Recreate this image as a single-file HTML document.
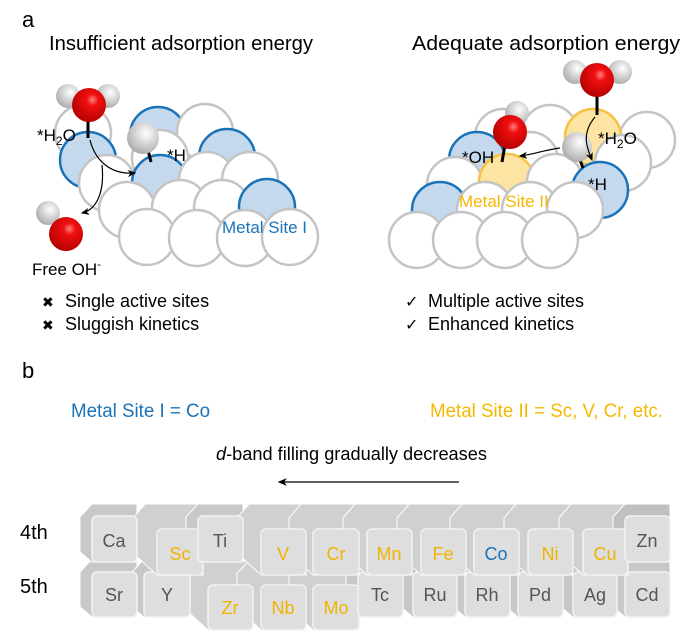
<!DOCTYPE html>
<html><head><meta charset="utf-8"><style>
body{margin:0;background:#fff}
svg{display:block;font-family:"Liberation Sans",Arial,sans-serif}
</style></head><body>
<svg width="699" height="636" viewBox="0 0 699 636" xmlns="http://www.w3.org/2000/svg">
<defs>
<radialGradient id="red" cx="0.6" cy="0.35" r="0.7"><stop offset="0" stop-color="#ff8080"/><stop offset="0.25" stop-color="#f01010"/><stop offset="1" stop-color="#b00000"/></radialGradient>
<radialGradient id="hg" cx="0.6" cy="0.35" r="0.7"><stop offset="0" stop-color="#ffffff"/><stop offset="0.4" stop-color="#dcdcdc"/><stop offset="1" stop-color="#a8a8a8"/></radialGradient>
<marker id="ah" markerWidth="8" markerHeight="8" refX="6" refY="4" orient="auto"><path d="M0,1 L7,4 L0,7 L2,4z" fill="#000"/></marker>
</defs>
<g fill="#000">
<text x="22" y="27" font-size="22">a</text>
<text x="49" y="50" font-size="20" textLength="264" lengthAdjust="spacingAndGlyphs">Insufficient adsorption energy</text>
<text x="412" y="50" font-size="20" textLength="268" lengthAdjust="spacingAndGlyphs">Adequate adsorption energy</text>
</g>
<!-- left cluster -->
<g stroke-width="2.5">
<circle cx="83" cy="133" r="28" fill="#fff" stroke="#c4c4c4"/>
<circle cx="158" cy="135" r="28" fill="#c5d9ee" stroke="#1a73b8"/>
<circle cx="205" cy="132" r="28" fill="#fff" stroke="#c4c4c4"/>
<circle cx="160" cy="158" r="28" fill="#fff" stroke="#c4c4c4"/>
<circle cx="88" cy="160" r="28" fill="#c5d9ee" stroke="#1a73b8"/>
<circle cx="227" cy="157" r="28" fill="#c5d9ee" stroke="#1a73b8"/>
<circle cx="107" cy="183" r="28" fill="#fff" stroke="#c4c4c4"/>
<circle cx="160" cy="183" r="28" fill="#c5d9ee" stroke="#1a73b8"/>
<circle cx="207" cy="180" r="28" fill="#fff" stroke="#c4c4c4"/>
<circle cx="250" cy="180" r="28" fill="#fff" stroke="#c4c4c4"/>
<circle cx="127" cy="210" r="28" fill="#fff" stroke="#c4c4c4"/>
<circle cx="180" cy="208" r="28" fill="#fff" stroke="#c4c4c4"/>
<circle cx="222" cy="208" r="28" fill="#fff" stroke="#c4c4c4"/>
<circle cx="267" cy="207" r="28" fill="#c5d9ee" stroke="#1a73b8"/>
<circle cx="147" cy="237" r="28" fill="#fff" stroke="#c4c4c4"/>
<circle cx="197" cy="238" r="28" fill="#fff" stroke="#c4c4c4"/>
<circle cx="245" cy="238" r="28" fill="#fff" stroke="#c4c4c4"/>
<circle cx="290" cy="237" r="28" fill="#fff" stroke="#c4c4c4"/>
</g>
<line x1="88" y1="118" x2="88" y2="138" stroke="#000" stroke-width="3"/>
<line x1="148" y1="150" x2="151" y2="162" stroke="#000" stroke-width="3"/>
<circle cx="68" cy="96" r="12" fill="url(#hg)"/><circle cx="108" cy="96" r="12" fill="url(#hg)"/>
<circle cx="89" cy="105" r="17" fill="url(#red)"/>
<circle cx="143" cy="138" r="16" fill="url(#hg)"/>
<circle cx="48" cy="213" r="12" fill="url(#hg)"/>
<circle cx="66" cy="234" r="17" fill="url(#red)"/>
<path d="M90,140 C95,160 110,175 135,173" fill="none" stroke="#000" stroke-width="1.2" marker-end="url(#ah)"/>
<path d="M102,165 C105,195 95,210 82,213" fill="none" stroke="#000" stroke-width="1.2" marker-end="url(#ah)"/>
<text x="37" y="141" font-size="17">*H<tspan font-size="12" dy="4">2</tspan><tspan dy="-4">O</tspan></text>
<text x="167" y="161" font-size="17">*H</text>
<text x="222" y="233" font-size="17" fill="#1a73b8">Metal Site I</text>
<text x="32" y="275" font-size="17">Free OH<tspan font-size="11" dy="-7">-</tspan></text>
<!-- right cluster -->
<g stroke-width="2.5">
<circle cx="503" cy="137" r="28" fill="#fff" stroke="#c4c4c4"/>
<circle cx="550" cy="133" r="28" fill="#fff" stroke="#c4c4c4"/>
<circle cx="647" cy="140" r="28" fill="#fff" stroke="#c4c4c4"/>
<circle cx="593" cy="137" r="28" fill="#fde4a3" stroke="#f5c242"/>
<circle cx="477" cy="160" r="28" fill="#c5d9ee" stroke="#1a73b8"/>
<circle cx="530" cy="160" r="28" fill="#fff" stroke="#c4c4c4"/>
<circle cx="623" cy="163" r="28" fill="#fff" stroke="#c4c4c4"/>
<circle cx="455" cy="185" r="28" fill="#fff" stroke="#c4c4c4"/>
<circle cx="507" cy="182" r="28" fill="#fde4a3" stroke="#f5c242"/>
<circle cx="555" cy="182" r="28" fill="#fff" stroke="#c4c4c4"/>
<circle cx="600" cy="190" r="28" fill="#c5d9ee" stroke="#1a73b8"/>
<circle cx="440" cy="210" r="28" fill="#c5d9ee" stroke="#1a73b8"/>
<circle cx="485" cy="210" r="28" fill="#fff" stroke="#c4c4c4"/>
<circle cx="530" cy="210" r="28" fill="#fff" stroke="#c4c4c4"/>
<circle cx="575" cy="210" r="28" fill="#fff" stroke="#c4c4c4"/>
<circle cx="417" cy="240" r="28" fill="#fff" stroke="#c4c4c4"/>
<circle cx="461" cy="240" r="28" fill="#fff" stroke="#c4c4c4"/>
<circle cx="505" cy="240" r="28" fill="#fff" stroke="#c4c4c4"/>
<circle cx="550" cy="240" r="28" fill="#fff" stroke="#c4c4c4"/>
</g>
<line x1="597" y1="95" x2="597" y2="115" stroke="#000" stroke-width="3"/>
<line x1="505" y1="145" x2="502" y2="162" stroke="#000" stroke-width="3"/>
<line x1="580" y1="160" x2="583" y2="168" stroke="#000" stroke-width="3"/>
<circle cx="575" cy="72" r="12" fill="url(#hg)"/><circle cx="620" cy="72" r="12" fill="url(#hg)"/>
<circle cx="597" cy="80" r="17" fill="url(#red)"/>
<circle cx="517" cy="113" r="12" fill="url(#hg)"/>
<circle cx="510" cy="132" r="17" fill="url(#red)"/>
<circle cx="577" cy="147" r="15" fill="url(#hg)"/>
<path d="M595,117 C580,135 588,150 592,160" fill="none" stroke="#000" stroke-width="1.2" marker-end="url(#ah)"/>
<path d="M560,148 C545,150 530,155 520,156" fill="none" stroke="#000" stroke-width="1.2" marker-end="url(#ah)"/>
<text x="598" y="144" font-size="17">*H<tspan font-size="12" dy="4">2</tspan><tspan dy="-4">O</tspan></text>
<text x="462" y="163" font-size="17">*OH</text>
<text x="588" y="190" font-size="17">*H</text>
<text x="459" y="207" font-size="17" fill="#f5b800">Metal Site II</text>
<g font-size="18">
<text x="42" y="307" font-size="14">✖</text><text x="65" y="307">Single active sites</text>
<text x="42" y="330" font-size="14">✖</text><text x="65" y="330">Sluggish kinetics</text>
<text x="405" y="307" font-size="16">✓</text><text x="428" y="307">Multiple active sites</text>
<text x="405" y="330" font-size="16">✓</text><text x="428" y="330">Enhanced kinetics</text>
</g>
<text x="22" y="378" font-size="22">b</text>
<text x="71" y="417" font-size="19" fill="#1a73b8" textLength="139" lengthAdjust="spacingAndGlyphs">Metal Site I = Co</text>
<text x="430" y="417" font-size="19" fill="#f5b800" textLength="233" lengthAdjust="spacingAndGlyphs">Metal Site II = Sc, V, Cr, etc.</text>
<text x="216" y="460" font-size="18" textLength="271" lengthAdjust="spacingAndGlyphs"><tspan font-style="italic">d</tspan>-band filling gradually decreases</text>
<line x1="459" y1="482" x2="279" y2="482" stroke="#000" stroke-width="1.3" marker-end="url(#ah)"/>
<text x="20" y="539" font-size="20">4th</text>
<text x="20" y="593" font-size="20">5th</text>
<!-- periodic table -->
<g id="pt" font-size="18" text-anchor="middle">
<g stroke="#fff" stroke-width="1">
<path d="M92,617 l-12,-10 v-35 l12,-13 h45 v58z" fill="#c8c8c8"/>
<path d="M144,617 l-12,-10 v-35 l12,-13 h46 v58z" fill="#c8c8c8"/>
<path d="M208,630 l-24,-22 v-35 l12,-12 h57 v69z" fill="#d0d0d0"/>
<path d="M261,630 l-24,-22 v-35 l12,-12 h57 v69z" fill="#d0d0d0"/>
<path d="M313,630 l-24,-22 v-35 l12,-12 h58 v69z" fill="#d0d0d0"/>
<path d="M358,617 l-12,-10 v-35 l12,-13 h45 v58z" fill="#c8c8c8"/>
<path d="M413,617 l-12,-10 v-35 l12,-13 h44 v58z" fill="#c8c8c8"/>
<path d="M465,617 l-12,-10 v-35 l12,-13 h45 v58z" fill="#c8c8c8"/>
<path d="M518,617 l-12,-10 v-35 l12,-13 h45 v58z" fill="#c8c8c8"/>
<path d="M573,617 l-12,-10 v-35 l12,-13 h44 v58z" fill="#c8c8c8"/>
<path d="M625,617 l-12,-10 v-35 l12,-13 h45 v58z" fill="#c8c8c8"/>
</g>
<g fill="#dedede" stroke="#f2f2f2" stroke-width="1.5">
<rect x="92" y="572" width="45" height="45" rx="5"/>
<rect x="144" y="572" width="46" height="45" rx="5"/>
<rect x="208" y="585" width="45" height="45" rx="5"/>
<rect x="261" y="585" width="45" height="45" rx="5"/>
<rect x="313" y="585" width="46" height="45" rx="5"/>
<rect x="358" y="572" width="45" height="45" rx="5"/>
<rect x="413" y="572" width="44" height="45" rx="5"/>
<rect x="465" y="572" width="45" height="45" rx="5"/>
<rect x="518" y="572" width="45" height="45" rx="5"/>
<rect x="573" y="572" width="44" height="45" rx="5"/>
<rect x="625" y="572" width="45" height="45" rx="5"/>
</g>
<g fill="#555">
<text x="114" y="601">Sr</text><text x="167" y="601">Y</text>
<text x="230" y="614" fill="#f0b400">Zr</text><text x="283" y="614" fill="#f0b400">Nb</text><text x="336" y="614" fill="#f0b400">Mo</text>
<text x="380" y="601">Tc</text><text x="435" y="601">Ru</text><text x="487" y="601">Rh</text><text x="540" y="601">Pd</text><text x="595" y="601">Ag</text><text x="647" y="601">Cd</text>
</g>
<g stroke="#fff" stroke-width="1">
<path d="M92,562 l-12,-10 v-35 l12,-13 h45 v58z" fill="#c8c8c8"/>
<path d="M157,575 l-24,-22 v-35 l12,-14 h58 v71z" fill="#d0d0d0"/>
<path d="M198,562 l-12,-10 v-35 l12,-13 h45 v58z" fill="#c8c8c8"/>
<path d="M261,575 l-24,-22 v-35 l12,-14 h57 v71z" fill="#d0d0d0"/>
<path d="M313,575 l-24,-22 v-35 l12,-14 h58 v71z" fill="#d0d0d0"/>
<path d="M367,575 l-24,-22 v-35 l12,-14 h57 v71z" fill="#d0d0d0"/>
<path d="M421,575 l-24,-22 v-35 l12,-14 h57 v71z" fill="#d0d0d0"/>
<path d="M474,575 l-24,-22 v-35 l12,-14 h57 v71z" fill="#d0d0d0"/>
<path d="M528,575 l-24,-22 v-35 l12,-14 h57 v71z" fill="#d0d0d0"/>
<path d="M583,575 l-24,-22 v-35 l12,-14 h57 v71z" fill="#d0d0d0"/>
<path d="M625,562 l-12,-10 v-35 l12,-13 h45 v58z" fill="#c0c0c0"/>
</g>
<g fill="#dedede" stroke="#f2f2f2" stroke-width="1.5">
<rect x="92" y="516" width="45" height="46" rx="5"/>
<rect x="157" y="529" width="46" height="46" rx="5"/>
<rect x="198" y="516" width="45" height="46" rx="5"/>
<rect x="261" y="529" width="45" height="46" rx="5"/>
<rect x="313" y="529" width="46" height="46" rx="5"/>
<rect x="367" y="529" width="45" height="46" rx="5"/>
<rect x="421" y="529" width="45" height="46" rx="5"/>
<rect x="474" y="529" width="45" height="46" rx="5"/>
<rect x="528" y="529" width="45" height="46" rx="5"/>
<rect x="583" y="529" width="45" height="46" rx="5"/>
<rect x="625" y="516" width="45" height="46" rx="5"/>
</g>
<g fill="#f0b400">
<text x="114" y="547" fill="#555">Ca</text><text x="180" y="560">Sc</text><text x="220" y="547" fill="#555">Ti</text>
<text x="283" y="560">V</text><text x="336" y="560">Cr</text><text x="389" y="560">Mn</text><text x="443" y="560">Fe</text>
<text x="496" y="560" fill="#1a73b8">Co</text><text x="550" y="560">Ni</text><text x="605" y="560">Cu</text><text x="647" y="547" fill="#555">Zn</text>
</g>
</g>
</svg>
</body></html>
